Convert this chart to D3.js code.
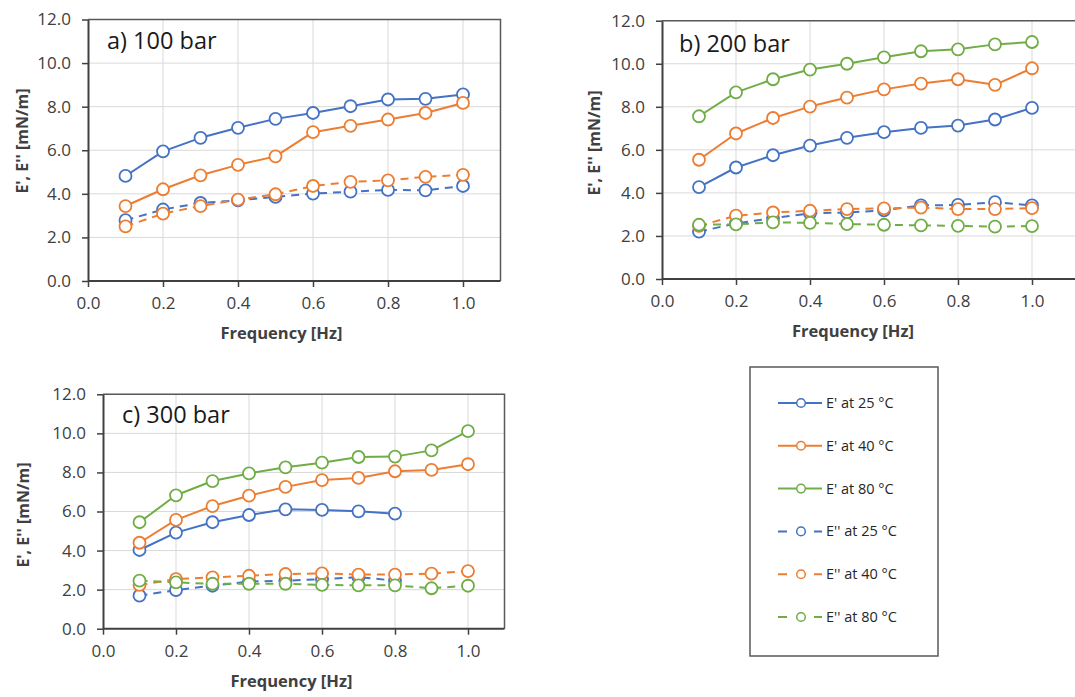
<!DOCTYPE html>
<html>
<head>
<meta charset="utf-8">
<script src="https://cdn.jsdelivr.net/npm/d3@7"></script>
<style>
  html, body { margin: 0; padding: 0; background: #fff; }
  svg { display: block; font-family: "Open Sans", "Liberation Sans", sans-serif; }
</style>
</head>
<body>
<svg id="chart" width="1075" height="697"></svg>
<script>
// ---------------- DATA ----------------
const freq = [0.1, 0.2, 0.3, 0.4, 0.5, 0.6, 0.7, 0.8, 0.9, 1.0];
const yTickValues = [0, 2, 4, 6, 8, 10, 12];
const xTickValues = [0, 0.2, 0.4, 0.6, 0.8, 1.0];

const seriesNames = ["E' at 25 °C", "E' at 40 °C", "E' at 80 °C", "E'' at 25 °C", "E'' at 40 °C", "E'' at 80 °C"];
const panelTitles = ["a) 100 bar", "b) 200 bar", "c) 300 bar"];
const xAxisTitle = "Frequency [Hz]";
const yAxisTitle = "E', E'' [mN/m]";

// a) 100 bar
const a_E1_25 = [4.82, 5.95, 6.57, 7.03, 7.44, 7.71, 8.02, 8.33, 8.36, 8.56];
const a_E1_40 = [3.44, 4.21, 4.85, 5.33, 5.72, 6.83, 7.12, 7.41, 7.71, 8.17];
const a_E2_25 = [2.79, 3.28, 3.58, 3.70, 3.86, 4.01, 4.10, 4.18, 4.16, 4.36];
const a_E2_40 = [2.51, 3.09, 3.44, 3.73, 3.98, 4.36, 4.55, 4.62, 4.78, 4.87];

// b) 200 bar
const b_E1_25 = [4.27, 5.18, 5.75, 6.20, 6.56, 6.82, 7.02, 7.13, 7.41, 7.95];
const b_E1_40 = [5.54, 6.76, 7.48, 8.01, 8.43, 8.81, 9.08, 9.28, 9.02, 9.79];
const b_E1_80 = [7.56, 8.67, 9.28, 9.73, 10.00, 10.30, 10.58, 10.67, 10.90, 11.01];
const b_E2_25 = [2.20, 2.58, 2.83, 3.05, 3.09, 3.19, 3.42, 3.44, 3.57, 3.42];
const b_E2_40 = [2.47, 2.94, 3.09, 3.17, 3.25, 3.28, 3.32, 3.25, 3.25, 3.29];
const b_E2_80 = [2.52, 2.54, 2.63, 2.61, 2.55, 2.52, 2.49, 2.47, 2.43, 2.46];

// c) 300 bar (25 °C series end at 0.8 Hz)
const c_E1_25 = [4.03, 4.92, 5.45, 5.82, 6.11, 6.08, 6.01, 5.89, null, null];
const c_E1_40 = [4.40, 5.57, 6.28, 6.81, 7.26, 7.61, 7.72, 8.06, 8.13, 8.42];
const c_E1_80 = [5.45, 6.83, 7.56, 7.95, 8.26, 8.50, 8.79, 8.81, 9.13, 10.11];
const c_E2_25 = [1.69, 1.98, 2.20, 2.41, 2.46, 2.53, 2.64, 2.46, null, null];
const c_E2_40 = [2.24, 2.54, 2.63, 2.71, 2.80, 2.83, 2.77, 2.77, 2.82, 2.95];
const c_E2_80 = [2.46, 2.37, 2.30, 2.30, 2.30, 2.24, 2.22, 2.22, 2.07, 2.20];

// ---------------- STYLE / LAYOUT ----------------
const colors = { "25": "#4472C4", "40": "#ED7D31", "80": "#70AD47" };
const seriesStyle = [
  { color: colors["25"], dashed: false },
  { color: colors["40"], dashed: false },
  { color: colors["80"], dashed: false },
  { color: colors["25"], dashed: true },
  { color: colors["40"], dashed: true },
  { color: colors["80"], dashed: true }
];

const panels = [
  { title: panelTitles[0], left: 88, x1: 463, frameRight: 500.5, top: 19.5, bottom: 281,
    titleX: 107, titleY: 49, yTitleX: 22, yTitleY: 141,
    series: [[0, a_E1_25], [1, a_E1_40], [3, a_E2_25], [4, a_E2_40]] },
  { title: panelTitles[1], left: 662, x1: 1032, frameRight: 1095, top: 20.7, bottom: 279,
    titleX: 679, titleY: 52, yTitleX: 594, yTitleY: 143,
    series: [[0, b_E1_25], [1, b_E1_40], [2, b_E1_80], [3, b_E2_25], [4, b_E2_40], [5, b_E2_80]] },
  { title: panelTitles[2], left: 103, x1: 468, frameRight: 504.5, top: 394.3, bottom: 628.7,
    titleX: 122, titleY: 423, yTitleX: 23, yTitleY: 515,
    series: [[0, c_E1_25], [1, c_E1_40], [2, c_E1_80], [3, c_E2_25], [4, c_E2_40], [5, c_E2_80]] }
];

const svg = d3.select("#chart");
const fmt = d3.format(".1f");

panels.forEach(p => {
  const x = d3.scaleLinear().domain([0, 1]).range([p.left, p.x1]);
  const y = d3.scaleLinear().domain([0, 12]).range([p.bottom, p.top]);
  const g = svg.append("g");

  // gridlines
  g.append("g").selectAll("line.h").data(yTickValues.filter(v => v > 0)).join("line")
    .attr("x1", p.left).attr("x2", p.frameRight)
    .attr("y1", d => y(d)).attr("y2", d => y(d))
    .attr("stroke", "#d9d9d9").attr("stroke-width", 1);
  g.append("g").selectAll("line.v").data(xTickValues.filter(v => v > 0)).join("line")
    .attr("x1", d => x(d)).attr("x2", d => x(d))
    .attr("y1", p.top).attr("y2", p.bottom)
    .attr("stroke", "#d9d9d9").attr("stroke-width", 1);

  // frame (top & right)
  g.append("path")
    .attr("d", `M${p.left},${p.top}H${p.frameRight}V${p.bottom}`)
    .attr("fill", "none").attr("stroke", "#595959").attr("stroke-width", 1.5);

  // axes
  const yAxis = d3.axisLeft(y).tickValues(yTickValues).tickFormat(fmt).tickSize(6).tickSizeOuter(0).tickPadding(11);
  const xAxis = d3.axisBottom(x).tickValues(xTickValues).tickFormat(fmt).tickSize(6).tickSizeOuter(0).tickPadding(10);
  const ya = g.append("g").attr("transform", `translate(${p.left},0)`).call(yAxis);
  const xa = g.append("g").attr("transform", `translate(0,${p.bottom})`).call(xAxis);
  xa.select(".domain").attr("d", `M${p.left},0H${p.frameRight}`);
  [ya, xa].forEach(a => {
    a.select(".domain").attr("stroke", "#404040").attr("stroke-width", 2);
    a.selectAll(".tick line").attr("stroke", "#404040").attr("stroke-width", 1.5);
    a.selectAll(".tick text").attr("fill", "#404040").attr("font-size", 17)
      .attr("font-family", "'Open Sans', sans-serif");
  });

  // series
  p.series.forEach(([si, vals]) => {
    const st = seriesStyle[si];
    const pts = freq.map((f, i) => ({ f, v: vals[i] })).filter(d => d.v != null);
    const line = d3.line().x(d => x(d.f)).y(d => y(d.v));
    g.append("path").datum(pts).attr("d", line)
      .attr("fill", "none").attr("stroke", st.color).attr("stroke-width", 2)
      .attr("stroke-dasharray", st.dashed ? "8,6" : null)
      .attr("stroke-linejoin", "round");
    g.append("g").selectAll("circle").data(pts).join("circle")
      .attr("cx", d => x(d.f)).attr("cy", d => y(d.v)).attr("r", 6)
      .attr("fill", "#fff").attr("stroke", st.color).attr("stroke-width", 1.8);
  });

  // titles
  g.append("text").attr("x", p.titleX).attr("y", p.titleY)
    .attr("font-size", 23.5).attr("fill", "#1a1a1a").text(p.title);
  g.append("text").attr("x", (p.left + p.x1) / 2 + 6).attr("y", p.bottom + 58)
    .attr("text-anchor", "middle").attr("font-size", 16.5).attr("font-weight", "bold")
    .attr("fill", "#404040").text(xAxisTitle);
  g.append("text")
    .attr("transform", `translate(${p.yTitleX},${p.yTitleY}) rotate(-90)`)
    .attr("text-anchor", "middle").attr("dominant-baseline", "central")
    .attr("font-size", 16).attr("font-weight", "bold")
    .attr("fill", "#404040").text(yAxisTitle);
});

// ---------------- LEGEND ----------------
const lg = svg.append("g");
lg.append("rect").attr("x", 750).attr("y", 367).attr("width", 188).attr("height", 289)
  .attr("fill", "#fff").attr("stroke", "#595959").attr("stroke-width", 1.5);
const rowY = d3.scalePoint().domain(seriesNames).range([403, 617]);
seriesNames.forEach((name, i) => {
  const st = seriesStyle[i];
  const yy = rowY(name);
  lg.append("line").attr("x1", 778).attr("x2", 822).attr("y1", yy).attr("y2", yy)
    .attr("stroke", st.color).attr("stroke-width", 2)
    .attr("stroke-dasharray", st.dashed ? "9,27,8" : null);
  lg.append("circle").attr("cx", 801).attr("cy", yy).attr("r", 4.3)
    .attr("fill", "#fff").attr("stroke", st.color).attr("stroke-width", 1.5);
  lg.append("text").attr("x", 826).attr("y", yy).attr("dy", "0.35em")
    .attr("font-size", 14.5).attr("fill", "#262626").text(name);
});
</script>
</body>
</html>
